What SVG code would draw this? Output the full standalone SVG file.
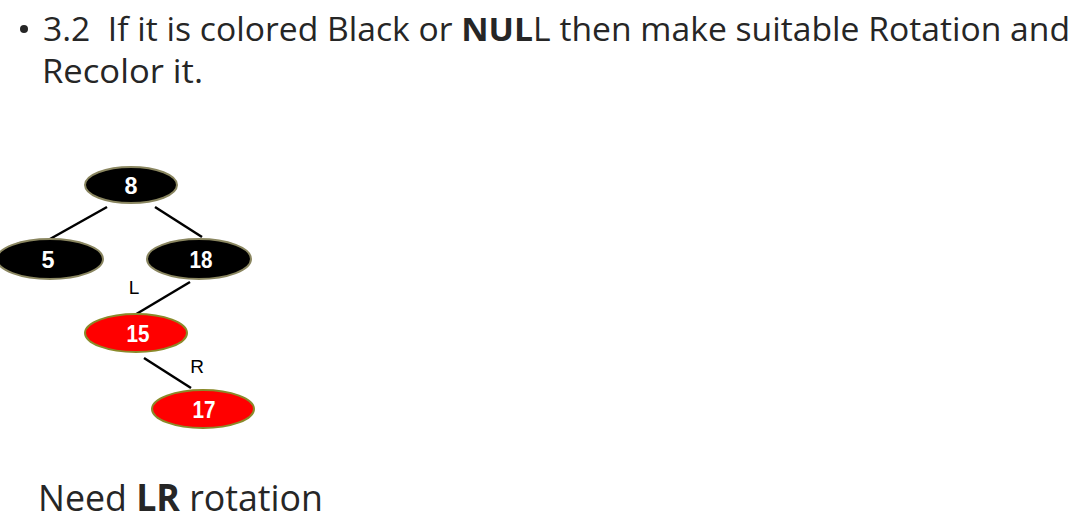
<svg xmlns="http://www.w3.org/2000/svg" width="1084" height="520" viewBox="0 0 1084 520">
<style>
.t{font-family:"Open Sans","Noto Sans",sans-serif;fill:#262626}
.b{font-weight:bold}
.blk{fill:#000;stroke:#8a8660;stroke-width:2}
.red{fill:#f00;stroke:#8a8a2a;stroke-width:2}
.n{font-family:"Liberation Sans",Arial,sans-serif;font-weight:bold;font-size:23px;fill:#fff;text-anchor:middle}
.e{stroke:#000;stroke-width:2.5;fill:none}
.lbl{font-family:"Liberation Sans",Arial,sans-serif;font-size:19px;fill:#000;text-anchor:middle}
</style>
<rect width="1084" height="520" fill="#fff"/>
<circle cx="24" cy="29" r="4" fill="#262626"/>
<text class="t" x="43" y="41" font-size="32" textLength="1027" lengthAdjust="spacingAndGlyphs" xml:space="preserve">3.2  If it is colored Black or <tspan class="b">NUL</tspan>L then make suitable Rotation and</text>
<text class="t" x="42" y="83" font-size="32" textLength="161" lengthAdjust="spacingAndGlyphs">Recolor it.</text>
<g id="connectors">
<line class="e" x1="107" y1="207" x2="50" y2="239"/>
<line class="e" x1="155" y1="207" x2="202" y2="237"/>
<line class="e" x1="190" y1="282" x2="133" y2="316"/>
<line class="e" x1="144" y1="358" x2="191" y2="388"/>
<text class="lbl" x="134" y="294">L</text>
<text class="lbl" x="197" y="373">R</text>
</g>
<g id="node-8"><ellipse class="blk" cx="131" cy="185" rx="46" ry="18"/><text class="n" x="131" y="194" textLength="13" lengthAdjust="spacingAndGlyphs">8</text></g>
<g id="node-5"><ellipse class="blk" cx="50" cy="259" rx="53" ry="20"/><text class="n" x="48" y="268" textLength="13" lengthAdjust="spacingAndGlyphs">5</text></g>
<g id="node-18"><ellipse class="blk" cx="199" cy="259" rx="52" ry="20"/><text class="n" x="201" y="268" textLength="23" lengthAdjust="spacingAndGlyphs">18</text></g>
<g id="node-15"><ellipse class="red" cx="136" cy="333" rx="51" ry="19"/><text class="n" x="138" y="342" textLength="23" lengthAdjust="spacingAndGlyphs">15</text></g>
<g id="node-17"><ellipse class="red" cx="203" cy="409" rx="51" ry="19"/><text class="n" x="204" y="418" textLength="23" lengthAdjust="spacingAndGlyphs">17</text></g>
<text class="t" x="38" y="511" font-size="37" textLength="285" lengthAdjust="spacingAndGlyphs">Need <tspan class="b">LR</tspan> rotation</text>
</svg>
